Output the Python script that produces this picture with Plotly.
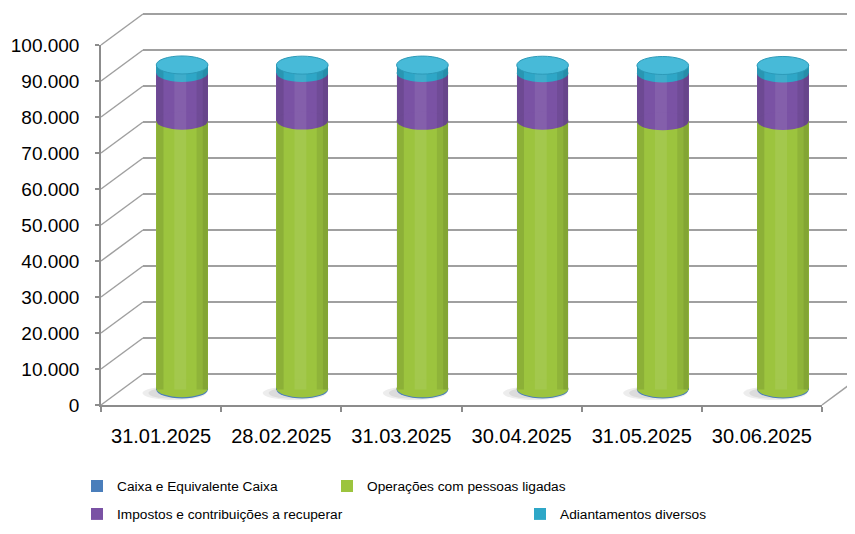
import plotly.graph_objects as go

# ---------------- data ----------------
dates = ["31.01.2025", "28.02.2025", "31.03.2025", "30.04.2025", "31.05.2025", "30.06.2025"]
caixa = [350, 300, 320, 280, 300, 310]
operacoes = [74300, 74400, 74300, 74400, 74200, 74300]
impostos = [13300, 13200, 13300, 13200, 13300, 13200]
adiantamentos = [2200, 2200, 2200, 2200, 2200, 2200]
series_names = ["Caixa e Equivalente Caixa", "Operações com pessoas ligadas",
                "Impostos e contribuições a recuperar", "Adiantamentos diversos"]
y_ticks = list(range(0, 100001, 10000))

# ---------------- style / geometry ----------------
WIN_W, WIN_H = 855, 534      # browser window
OFF = 8                      # default page body margin
W, H = WIN_W - 2 * OFF, WIN_H - 2 * OFF
FONT = "Liberation Sans, Arial, sans-serif"
GRID = "#a0a0a0"
AXIS = "#8c8c8c"
COLORS = ["#4a7ebb", "#9cc43e", "#7a52a4", "#2ea7c7"]
TOP_FACE = "#47bad8"

FX0, FX1 = 101, 822          # front floor edge (window px)
FY0, FPX = 405, 3.6          # front zero line (window px) and px per 1000
DX, DY = 42, 31              # depth offset of back wall
BW = 0.43                    # bar width (category units)
RY = 2500                    # ellipse half height (data units)


def px(x):
    return (x - OFF) / W


def py(y):
    return 1 - (y - OFF) / H


def ydomain(zero_px, vmin, vmax):
    return [py(zero_px - FPX * vmin / 1000), py(zero_px - FPX * vmax / 1000)]


fig = go.Figure()

# back wall (gridlines)
back_rng = [-1000, 101000]
fig.add_trace(go.Scatter(x=[], y=[], xaxis="x", yaxis="y", showlegend=False, hoverinfo="skip"))
# front axis (labels)
fig.add_trace(go.Scatter(x=dates, y=[0] * len(dates), mode="none", xaxis="x2", yaxis="y2",
                         showlegend=False, hoverinfo="skip"))

# bars at mid depth
series = [caixa, operacoes, impostos, adiantamentos]
legends = ["legend", "legend2", "legend3", "legend4"]
for name, vals, col, lg in zip(series_names, series, COLORS, legends):
    fig.add_trace(go.Bar(x=dates, y=vals, name=name, marker=dict(color=col, line=dict(width=0)),
                         width=BW, xaxis="x3", yaxis="y3", legend=lg))

bar_rng = [-6000, 105000]
mid_zero = FY0 - DY / 2

shapes = []
# shadows and cylinder ellipses
for i in range(len(dates)):
    shapes.append(dict(type="circle", xref="x3", yref="y3", layer="below",
                       x0=i - 0.33, x1=i + 0.2, y0=-2900, y1=900,
                       fillcolor="rgba(0,0,0,0.07)", line=dict(width=0)))
    shapes.append(dict(type="circle", xref="x3", yref="y3", layer="below",
                       x0=i - 0.28, x1=i + 0.1, y0=-2500, y1=500,
                       fillcolor="rgba(0,0,0,0.07)", line=dict(width=0)))
    cum = 0
    for vals, col in zip(series, COLORS):
        shapes.append(dict(type="circle", xref="x3", yref="y3", layer="above",
                           x0=i - BW / 2, x1=i + BW / 2, y0=cum - RY, y1=cum + RY,
                           fillcolor=col, line=dict(width=0)))
        cum += vals[i]
    tot = cum
    # cylinder shading stripes (darker edges, light centre)
    shapes.append(dict(type="rect", xref="x3", yref="y3", layer="above",
                       x0=i - BW / 2, x1=i - BW * 0.36, y0=0, y1=tot,
                       fillcolor="rgba(0,0,0,0.10)", line=dict(width=0)))
    shapes.append(dict(type="rect", xref="x3", yref="y3", layer="above",
                       x0=i + BW * 0.28, x1=i + BW / 2, y0=0, y1=tot,
                       fillcolor="rgba(0,0,0,0.08)", line=dict(width=0)))
    shapes.append(dict(type="rect", xref="x3", yref="y3", layer="above",
                       x0=i + BW * 0.40, x1=i + BW / 2, y0=0, y1=tot,
                       fillcolor="rgba(0,0,0,0.08)", line=dict(width=0)))
    shapes.append(dict(type="rect", xref="x3", yref="y3", layer="above",
                       x0=i - BW * 0.15, x1=i + BW * 0.08, y0=0, y1=tot,
                       fillcolor="rgba(255,255,255,0.08)", line=dict(width=0)))
    # top face
    shapes.append(dict(type="circle", xref="x3", yref="y3", layer="above",
                       x0=i - BW / 2, x1=i + BW / 2, y0=tot - RY, y1=tot + RY,
                       fillcolor=TOP_FACE, line=dict(width=1, color="#2d9ab8")))

# side-wall diagonals from the front axis to the back wall
for v in y_ticks:
    yf = FY0 - FPX * v / 1000
    shapes.append(dict(type="line", xref="paper", yref="paper",
                       x0=px(FX0), y0=py(yf), x1=px(FX0 + DX), y1=py(yf - DY),
                       line=dict(color=GRID, width=1.5)))
# right floor edge
shapes.append(dict(type="line", xref="paper", yref="paper",
                   x0=px(FX1), y0=py(FY0), x1=px(FX1 + DX), y1=py(FY0 - DY),
                   line=dict(color=GRID, width=1.5)))

leg_font = dict(family=FONT, size=13.7, color="#000000")
leg_pos = [(117, 486), (367, 486), (117, 514), (560, 514)]
leg_layout = {}
for lg, (tx, ty) in zip(legends, leg_pos):
    leg_layout[lg] = dict(x=px(tx - 40), y=py(ty), xanchor="left", yanchor="middle",
                          font=leg_font, bgcolor="rgba(0,0,0,0)", borderwidth=0)

fig.update_layout(
    width=W, height=H,
    margin=dict(l=0, r=0, t=0, b=0, pad=0, autoexpand=False),
    paper_bgcolor="white", plot_bgcolor="rgba(0,0,0,0)",
    separators=",.",
    barmode="stack",
    showlegend=True,
    shapes=shapes,
    xaxis=dict(domain=[px(FX0 + DX), 1.0], visible=False, anchor="y"),
    yaxis=dict(domain=ydomain(FY0 - DY, back_rng[0], back_rng[1]), range=back_rng,
               anchor="x", tickvals=y_ticks, showgrid=True, gridcolor=GRID, gridwidth=1.5,
               showticklabels=False, ticks="", zeroline=False, showline=False),
    xaxis2=dict(domain=[px(FX0), px(FX1)], anchor="y2", type="category",
                categoryarray=dates, categoryorder="array", range=[-0.5, len(dates) - 0.5],
                showline=True, linecolor=AXIS, linewidth=1.5, ticks="outside", tickson="boundaries",
                ticklen=5, tickcolor=AXIS, tickwidth=1.5, showgrid=False, zeroline=False,
                ticklabelstandoff=12,
                tickfont=dict(family=FONT, size=20, color="#000000")),
    yaxis2=dict(domain=ydomain(FY0, 0, 100000), range=[0, 100000], anchor="x2",
                tickvals=y_ticks, tickformat=",d", showline=True, linecolor=AXIS, linewidth=1.5,
                ticks="outside", ticklen=4, tickcolor=AXIS, tickwidth=1.5, showgrid=False,
                zeroline=False, ticklabelstandoff=12,
                tickfont=dict(family=FONT, size=19, color="#000000")),
    xaxis3=dict(domain=[px(FX0 + DX / 2), px(FX1 + DX / 2)], anchor="y3", type="category",
                categoryarray=dates, categoryorder="array", range=[-0.5, len(dates) - 0.5],
                visible=False),
    yaxis3=dict(domain=ydomain(mid_zero, bar_rng[0], bar_rng[1]), range=bar_rng,
                anchor="x3", visible=False),
    **leg_layout,
)

fig.write_html("out.html")
